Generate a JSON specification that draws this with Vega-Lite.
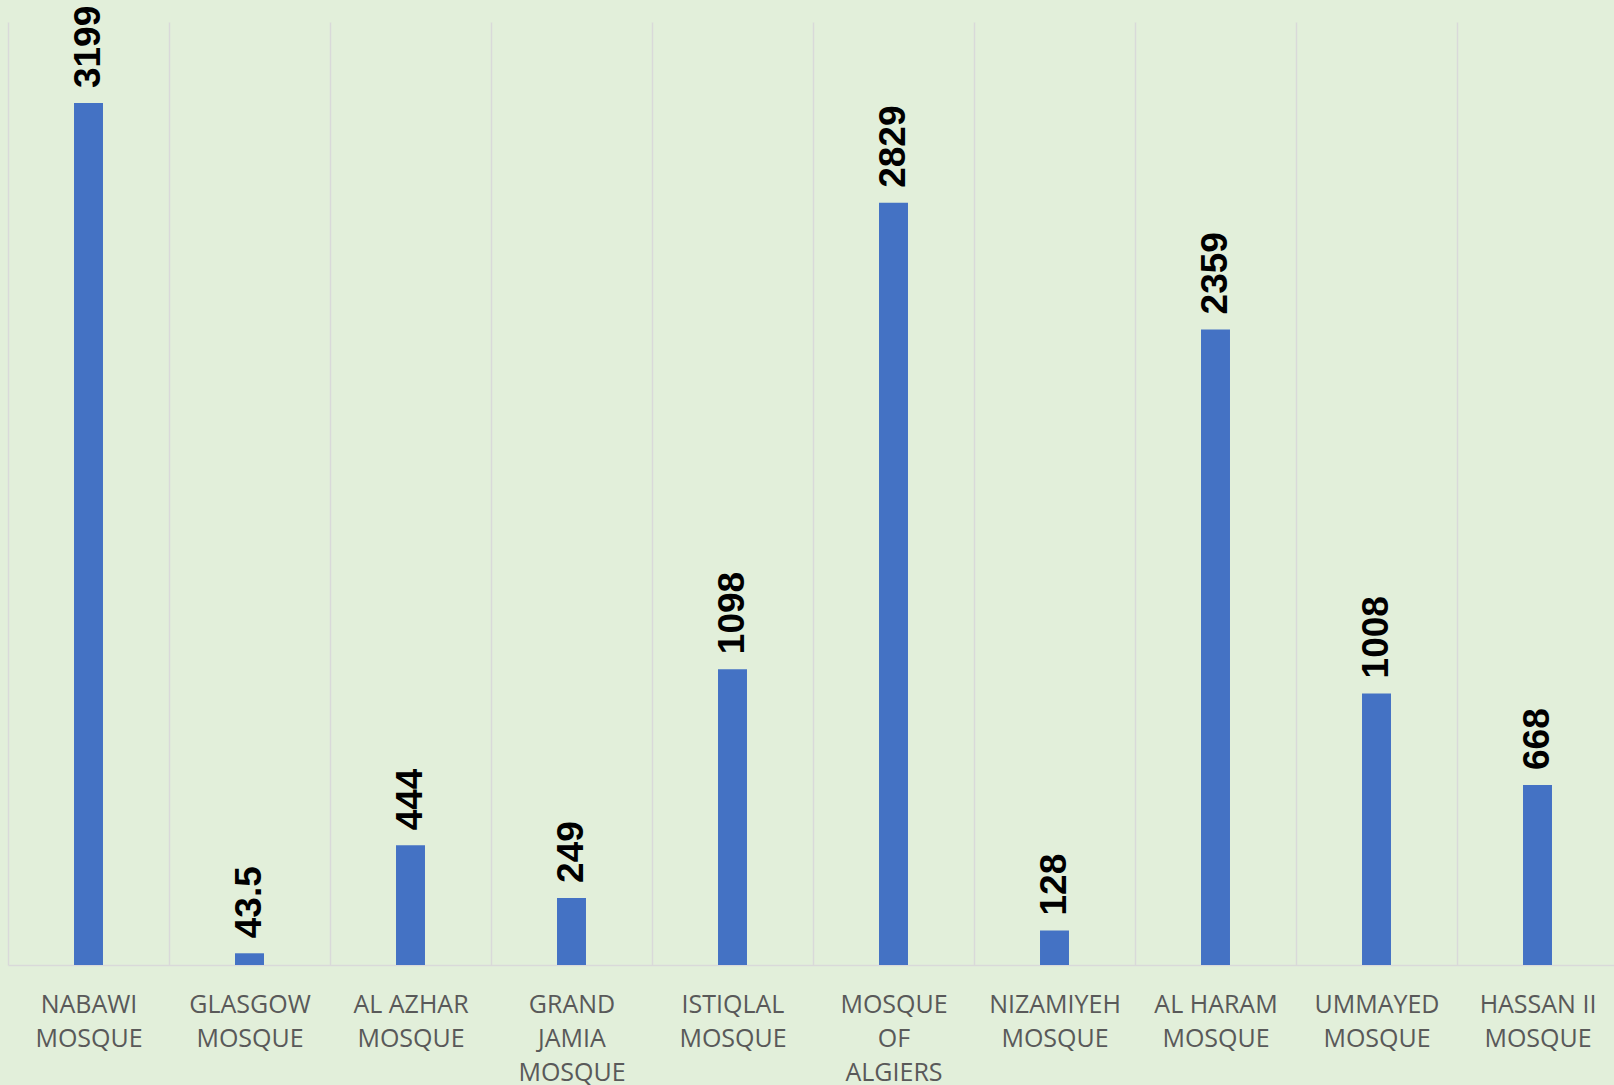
{
  "$schema": "https://vega.github.io/schema/vega-lite/v6.json",
  "autosize": {"type": "none"},
  "padding": {"left": 8, "top": 22, "right": 0, "bottom": 120},
  "width": 1610,
  "height": 943,
  "background": "#E2EFDA",
  "config": {"view": {"stroke": null}},
  "data": {
    "values": [
      {"mosque": "NABAWI MOSQUE", "value": 3199},
      {"mosque": "GLASGOW MOSQUE", "value": 43.5},
      {"mosque": "AL AZHAR MOSQUE", "value": 444},
      {"mosque": "GRAND JAMIA MOSQUE", "value": 249},
      {"mosque": "ISTIQLAL MOSQUE", "value": 1098},
      {"mosque": "MOSQUE OF ALGIERS", "value": 2829},
      {"mosque": "NIZAMIYEH MOSQUE", "value": 128},
      {"mosque": "AL HARAM MOSQUE", "value": 2359},
      {"mosque": "UMMAYED MOSQUE", "value": 1008},
      {"mosque": "HASSAN II MOSQUE", "value": 668}
    ]
  },
  "encoding": {
    "x": {
      "field": "mosque",
      "type": "nominal",
      "sort": null,
      "scale": {"paddingInner": 0, "paddingOuter": 0},
      "axis": {
        "title": null,
        "labelAngle": 0,
        "labelFont": "Open Sans",
        "labelFontSize": 25,
        "labelColor": "#595959",
        "labelLineHeight": 34,
        "labelBaseline": "top",
        "labelPadding": 27,
        "labelLimit": 0,
        "labelOverlap": false,
        "ticks": false,
        "tickBand": "extent",
        "grid": true,
        "gridColor": "#D9D9D9",
        "gridWidth": 1.5,
        "domainColor": "#D9D9D9",
        "domainWidth": 1.5,
        "labelExpr": "!datum.label ? '' : (datum.label == 'GRAND JAMIA MOSQUE' || datum.label == 'MOSQUE OF ALGIERS') ? split(datum.label, ' ') : [replace(datum.label, ' MOSQUE', ''), 'MOSQUE']"
      }
    },
    "y": {
      "field": "value",
      "type": "quantitative",
      "scale": {"domain": [0, 3500], "nice": false},
      "axis": null
    }
  },
  "layer": [
    {
      "mark": {"type": "bar", "color": "#4472C4", "width": {"band": 0.18}}
    },
    {
      "mark": {
        "type": "text",
        "angle": -90,
        "align": "left",
        "baseline": "middle",
        "dx": 15,
        "font": "Liberation Sans",
        "fontWeight": "bold",
        "fontSize": 37,
        "color": "#000000"
      },
      "encoding": {
        "text": {"field": "value", "type": "quantitative", "format": "~r"}
      }
    }
  ]
}
